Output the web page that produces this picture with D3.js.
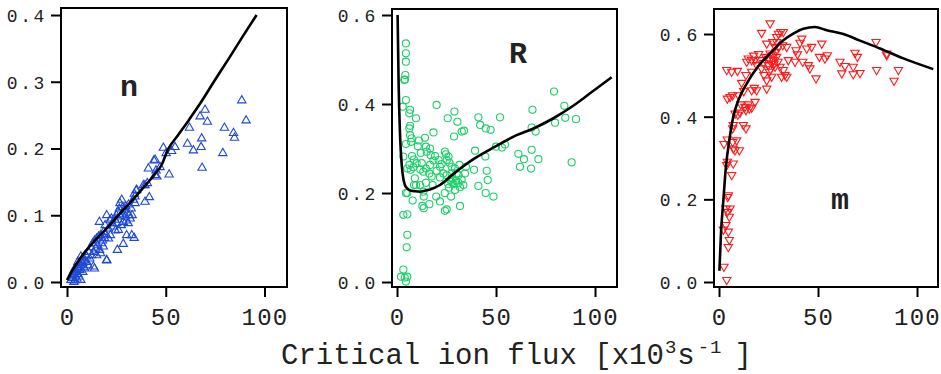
<!DOCTYPE html>
<html><head><meta charset="utf-8">
<script src="https://cdn.jsdelivr.net/npm/d3@7"></script>
<style>
body{margin:0;background:#fff;}
svg{display:block;}
text{font-family:"Liberation Mono","DejaVu Sans Mono",monospace;fill:#222;}
</style></head>
<body>
<svg id="c" width="941" height="374"></svg>
<script>
// ---------- DATA ----------
const xTicks = [0, 50, 100];
const nTicks = [0, 0.1, 0.2, 0.3, 0.4];
const rTicks = [0, 0.2, 0.4, 0.6];
const mTicks = [0, 0.2, 0.4, 0.6];
const xTitle = "Critical ion flux [x10";
const panelLabels = ["n", "R", "m"];

// panel n : measured points (x, y)
const nPoints = [
[88.5,0.272],[90.7,0.242],[69.9,0.258],[67.4,0.248],[71.1,0.240],[62,0.231],[79.7,0.231],[84.3,0.223],[84.8,0.216],[68.2,0.215],
[67.9,0.202],[61,0.207],[64,0.197],[78.9,0.193],[68.4,0.171],[54.7,0.202],[48.8,0.201],[50.2,0.193],[53,0.196],[51.7,0.161],
[47.1,0.172],[44.6,0.183],[44,0.182],[45.1,0.167],[45.5,0.158],[44.6,0.160],[41.2,0.170],[41.7,0.127],[39.5,0.120],[38.7,0.145],
[40.7,0.148],[39.5,0.145],[35,0.137],[34.1,0.132],[34.5,0.118],[33.6,0.123],[34,0.066],[32.8,0.070],[30.2,0.070],[28.5,0.057],
[25.5,0.048],[20.1,0.032],[13.9,0.020],[35.3,0.138],[34.4,0.128],[27.7,0.123],[26.8,0.118],
[29,0.108],[30.5,0.104],[31.5,0.100],[29.5,0.098],[28,0.102],[27,0.098],[30,0.092],[32,0.095],[31,0.088],[28.5,0.090],
[26,0.105],[25,0.100],[24.3,0.093],[25.2,0.088],[26,0.078],[23.5,0.083],[24.5,0.077],[27.5,0.085],[29.8,0.113],[32.5,0.110],
[31.2,0.116],[28.2,0.112],[26.5,0.110],[33,0.100],[22.5,0.095],[23,0.088],
[16.4,0.090],[20.1,0.100],[21.8,0.093],[19.3,0.085],[20.9,0.080],[18.4,0.053],[20.1,0.033],[13.3,0.023],[10.8,0.025],[15,0.065],
[16,0.068],[17,0.070],[14,0.062],[13,0.058],[18,0.062],[19,0.066],[17.5,0.058],[15.5,0.055],[14.5,0.050],[16.5,0.048],
[12,0.052],[13.5,0.045],[11,0.045],[12.5,0.040],[15,0.040],[17,0.043],[18.5,0.075],[19.5,0.072],[21,0.065],[22,0.070],
[11.5,0.035],[10,0.038],
[2,0.003],[3,0.006],[3.5,0.000],[4,0.010],[5,0.005],[4.5,0.015],[5.5,0.012],[6,0.020],[6.5,0.018],[7,0.025],
[5,0.022],[7.5,0.030],[8,0.028],[8.5,0.035],[9,0.032],[6,0.008],[7,0.003],[3,0.012],[4,0.020],[2.5,0.008],
[9.5,0.040],[8,0.015],[6.5,0.028],[10,0.030],[5.5,0.030],[7,0.038],[8.5,0.022],[4,0.002],[3.5,0.017],[9,0.020]
];
const nCurveX = [0, 2, 5, 8, 12, 16, 20, 26, 32, 38, 44, 48, 51, 56, 62, 68, 75, 82, 89, 96];
const nCurveY = [0.003, 0.014, 0.028, 0.041, 0.055, 0.068, 0.080, 0.100, 0.119, 0.139, 0.160, 0.176, 0.198, 0.219, 0.244, 0.270, 0.303, 0.335, 0.368, 0.400];

// panel R
const rPoints = [
[4.5,0.536],[4.5,0.514],[4.5,0.495],[4.2,0.465],[4,0.455],[3.7,0.454],[4.5,0.409],[2.9,0.394],[6.6,0.387],[6.2,0.379],
[9.6,0.368],[6.6,0.351],[6.2,0.345],[6.6,0.330],[7.4,0.323],[4.5,0.310],[7.1,0.315],[3.2,0.282],[7.6,0.283],[6.2,0.263],
[5.2,0.255],[6.9,0.252],[4.5,0.200],[5.2,0.200],[7.9,0.183],[3.2,0.151],[5.2,0.152],[5.2,0.106],[4.9,0.078],[3.2,0.028],
[2,0.012],[5.2,0.012],[4.5,0.001],[3.9,0.010],
[20,0.398],[25.6,0.368],[29,0.383],[30.5,0.360],[28.8,0.327],[32.7,0.338],[33.8,0.340],[41.1,0.370],[42,0.353],[44.8,0.345],
[47.3,0.342],[52,0.370],[68.4,0.387],[68,0.347],[70,0.338],[79.3,0.428],[84.5,0.396],[79.8,0.358],[85,0.369],[90.4,0.366],
[88.2,0.269],[68,0.297],[71.4,0.276],[67.7,0.255],[61.3,0.288],[64.1,0.276],[62.1,0.259],[50,0.304],[53,0.302],[54.5,0.309],
[39.4,0.295],[38.9,0.252],[44.6,0.282],[45.3,0.250],[45.8,0.229],[41.1,0.216],[44.8,0.200],[48.7,0.192],[31.8,0.171],
[18.4,0.336],[14.1,0.324],[14.6,0.304],[11.1,0.318],[16.7,0.300],[15,0.293],[19.2,0.283],[21,0.274],[18.4,0.273],[16.7,0.263],
[21.7,0.259],[12.5,0.267],[9.9,0.267],[8.2,0.258],[11.8,0.253],[14.6,0.255],[16.3,0.244],[13.3,0.248],[9,0.233],[11.6,0.218],
[14.6,0.223],[18,0.218],[9.6,0.218],[8.6,0.218],[13.3,0.203],[13.5,0.192],[12.8,0.171],[13.5,0.166],[16.3,0.175],[19.8,0.192],
[21.7,0.181],[24.1,0.200],[24.2,0.160],[25.1,0.163],[27.3,0.192],[24.7,0.287],[26,0.282],[25.1,0.274],[27.6,0.259],[29.3,0.255],
[30.1,0.244],[31.1,0.240],[34.3,0.244],[34.8,0.259],[31.5,0.263],[26.8,0.229],[27.6,0.225],[28.5,0.220],[25.9,0.220],[25.1,0.240],
[23.4,0.244],[21.7,0.235],[29.3,0.207],[31.8,0.213],[33.5,0.218],[31,0.223],[27.6,0.244],[24.2,0.293],[20,0.250],[17.5,0.237],
[10.5,0.305],[12,0.290],[8.5,0.275],[17,0.285],[22.5,0.265],[26.5,0.268],[28,0.232],[29.8,0.228],[26.2,0.212],[32.6,0.230]
];
const rCurveX = [0.3, 0.8, 1.5, 2.4, 3.2, 4, 5, 6.6, 9, 11.6, 14, 16.7, 21.7, 28.5, 38.6, 49.5, 60.4, 68.9, 79, 89, 97.5, 108.4];
const rCurveY = [0.600, 0.450, 0.334, 0.262, 0.232, 0.218, 0.211, 0.206, 0.204, 0.203, 0.205, 0.208, 0.218, 0.243, 0.276, 0.304, 0.330, 0.345, 0.368, 0.396, 0.424, 0.460];

// panel m
const mPoints = [
[3.9,0.005],[2.5,0.037],[4.7,0.085],[5.2,0.102],[2.2,0.127],[4.7,0.122],[3.5,0.138],[5.2,0.158],[4.2,0.170],[3.5,0.178],
[5.6,0.178],[4.4,0.206],[4.7,0.210],[6.4,0.259],[3.9,0.283],[7.2,0.287],[4.2,0.291],[2.5,0.334],[4.2,0.345],[6.9,0.339],
[8.1,0.319],[10.3,0.319],[7.2,0.323],[8.9,0.343],[6.9,0.372],[7.2,0.380],[13.6,0.372],[12.3,0.380],[8.1,0.408],[10.6,0.410],
[13.6,0.416],[14.8,0.430],[16.5,0.422],[13.1,0.424],[15.3,0.420],[18.2,0.436],[4.2,0.444],[5.6,0.448],[6.9,0.452],[9.8,0.452],
[16.5,0.464],[19,0.464],[24.1,0.468],[11.4,0.482],[13.6,0.501],[16.5,0.509],[3.9,0.513],[6.4,0.509],[9.3,0.511],[14,0.533],
[14.8,0.541],[16.5,0.537],[18.2,0.538],[19,0.525],[20.7,0.537],[21.5,0.517],[22.7,0.501],[24.1,0.488],[24.9,0.525],[26.6,0.529],
[27.4,0.537],[29.1,0.545],[29.8,0.533],[28.3,0.521],[30.8,0.521],[32.5,0.513],[33.3,0.501],[34.2,0.497],[31.6,0.497],[26.6,0.497],
[25.4,0.509],[24.9,0.541],[25.8,0.553],[27.1,0.549],[28.8,0.557],[30,0.569],[32.2,0.573],[34.2,0.569],[35,0.537],[29.1,0.581],
[30,0.601],[31.2,0.605],[32.5,0.605],[25.8,0.626],[21.5,0.603],[24.1,0.577],[27.1,0.581],[28.3,0.569],[39.6,0.551],[38.9,0.561],
[41.8,0.589],[40.9,0.579],[44.3,0.565],[46.8,0.569],[45.1,0.525],[45.9,0.517],[42.3,0.533],[38.4,0.533],[49,0.493],[51.9,0.577],
[50.7,0.545],[53.5,0.541],[54.7,0.549],[61.1,0.533],[63.6,0.523],[62,0.505],[67.8,0.503],[71.2,0.506],[67.8,0.521],[69.9,0.545],
[68.7,0.555],[79.6,0.513],[79.3,0.581],[84.7,0.553],[84.7,0.549],[90.6,0.513],[88.4,0.487],[29.1,0.593],
[22.5,0.530],[23.5,0.545],[26,0.515],[27.8,0.528],[20,0.552],[17.5,0.548],[12.5,0.462],[11,0.430],[9.5,0.405],[17.8,0.470]
];
const mCurveX = [0.2, 1, 2.2, 3.5, 5.2, 7.2, 9.8, 14, 19, 25.8, 32.5, 37.5, 42.6, 48.5, 54.4, 62.8, 71.2, 81.3, 93.1, 108.2];
const mCurveY = [0.027, 0.118, 0.198, 0.279, 0.343, 0.400, 0.440, 0.480, 0.517, 0.553, 0.585, 0.601, 0.613, 0.617, 0.609, 0.600, 0.584, 0.565, 0.541, 0.515];

// ---------- LAYOUT ----------
const panels = [
  {pts:nPoints, cx:nCurveX, cy:nCurveY, yt:nTicks, label:panelLabels[0],
   L:61, R:287, T:8, B:287, xd:[-3.04,111.4], yd:[-0.0075,0.4105],
   sym:"up", color:"#1f48d6", lx:129, ly:96},
  {pts:rPoints, cx:rCurveX, cy:rCurveY, yt:rTicks, label:panelLabels[1],
   L:392, R:617, T:9, B:287, xd:[-2.53,111.1], yd:[-0.0112,0.6135],
   sym:"circle", color:"#1fcf6a", lx:518, ly:63},
  {pts:mPoints, cx:mCurveX, cy:mCurveY, yt:mTicks, label:panelLabels[2],
   L:714, R:938, T:9, B:287, xd:[-2.53,110.6], yd:[-0.0121,0.6605],
   sym:"down", color:"#ff1a1a", lx:840, ly:209}
];

const svg = d3.select("#c");
const tri = d3.symbol().type(d3.symbolTriangle).size(30);
const circ = d3.symbol().type(d3.symbolCircle).size(40);

panels.forEach(p => {
  const x = d3.scaleLinear().domain(p.xd).range([p.L, p.R]);
  const y = d3.scaleLinear().domain(p.yd).range([p.B, p.T]);
  const g = svg.append("g");

  // y axis
  const ya = d3.axisLeft(y).tickValues(p.yt).tickFormat(d3.format(".1f")).tickSize(10).tickPadding(4);
  const yg = g.append("g").attr("transform", `translate(${p.L},0)`).call(ya);
  yg.select(".domain").remove();
  yg.selectAll(".tick line").attr("stroke", "#000").attr("stroke-width", 2);
  yg.selectAll(".tick text").attr("font-size", 18).attr("letter-spacing", 2.6)
    .attr("font-family", "Liberation Mono").attr("fill", "#2a2a2a").attr("dy", "0.36em");

  // x axis
  const xa = d3.axisBottom(x).tickValues(xTicks).tickFormat(d3.format("d")).tickSize(10).tickPadding(11);
  const xg = g.append("g").attr("transform", `translate(0,${p.B})`).call(xa);
  xg.select(".domain").remove();
  xg.selectAll(".tick line").attr("stroke", "#000").attr("stroke-width", 2);
  xg.selectAll(".tick text").attr("font-size", 24).attr("letter-spacing", 1.2)
    .attr("font-family", "Liberation Mono").attr("fill", "#2a2a2a");

  // markers
  const mk = g.append("g");
  p.pts.forEach(d => {
    const px = x(d[0]), py = y(d[1]);
    let path, tr = `translate(${px},${py})`;
    if (p.sym === "circle") path = circ();
    else { path = tri(); if (p.sym === "down") tr += " rotate(180)"; }
    mk.append("path").attr("d", path).attr("transform", tr)
      .attr("fill", "none").attr("stroke", p.color).attr("stroke-width", 1.1);
  });

  // model curve
  const line = d3.line().x(d => x(d[0])).y(d => y(d[1])).curve(d3.curveMonotoneX);
  g.append("path").datum(p.cx.map((v, i) => [v, p.cy[i]]))
    .attr("d", line).attr("fill", "none").attr("stroke", "#000").attr("stroke-width", 2.6)
    .attr("stroke-linejoin", "round");

  // frame
  g.append("rect").attr("x", p.L).attr("y", p.T).attr("width", p.R - p.L).attr("height", p.B - p.T)
    .attr("fill", "none").attr("stroke", "#000").attr("stroke-width", 2);

  // panel label
  g.append("text").attr("x", p.lx).attr("y", p.ly).attr("text-anchor", "middle")
    .attr("font-size", 30).attr("font-weight", "bold").attr("fill", "#000").text(p.label);
});

// x title
const t = svg.append("text").attr("x", 281).attr("y", 364).attr("font-size", 29).attr("fill", "#2a2a2a");
t.append("tspan").text(xTitle);
t.append("tspan").attr("dy", -11).attr("dx", 1).attr("font-size", 19).text("3");
t.append("tspan").attr("dy", 11).attr("dx", 1).attr("font-size", 29).text("s");
t.append("tspan").attr("dy", -11).attr("dx", 3).attr("font-size", 19).attr("letter-spacing", 1).text("-1");
t.append("tspan").attr("dy", 11).attr("dx", 12).attr("font-size", 29).text("]");
</script>
</body></html>
